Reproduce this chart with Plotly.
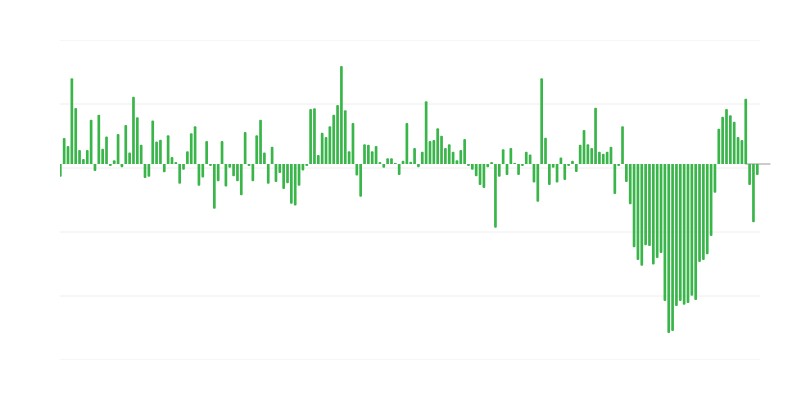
import plotly.graph_objects as go

values = [
    -2.0, 4.06, 2.8, 13.4, 8.75, 2.2, 0.8, 2.2, 6.9, -1.1,
    7.7, 2.4, 4.3, -0.2, 0.6, 4.7, -0.5, 6.1, 1.8, 10.5,
    7.3, 3.0, -2.2, -2.0, 6.8, 3.5, 3.8, -1.3, 4.5, 1.1,
    0.2, -3.1, -0.9, 2.0, 4.8, 5.9, -3.4, -2.1, 3.6, -0.2,
    -7.0, -2.7, 3.6, -3.5, -0.6, -1.9, -2.7, -4.9, 5.0, -0.3,
    -2.7, 4.5, 6.9, 1.8, -3.1, 2.7, -2.8, -1.4, -3.9, -3.0,
    -6.2, -6.5, -3.4, -1.0, -0.3, 8.6, 8.7, 1.4, 4.9, 4.2,
    5.9, 7.7, 9.2, 15.3, 8.4, 2.0, 6.4, -1.8, -5.1, 3.1,
    3.0, 2.0, 2.8, 0.2, -0.6, 0.9, 0.9, 0.15, -1.7, 0.5,
    6.4, 0.35, 2.5, -0.5, 1.9, 9.8, 3.6, 3.75, 5.6, 4.4,
    2.5, 3.1, 1.9, 0.6, 2.2, 3.9, -0.3, -0.9, -1.9, -3.3,
    -3.75, -0.5, 0.3, -9.95, -2.0, 2.3, -1.7, 2.5, 0.15, -1.7,
    -0.2, 1.9, 1.5, -2.9, -5.9, 13.4, 4.1, -3.3, -0.6, -2.9,
    1.0, -2.5, -0.3, 0.5, -1.25, 3.0, 5.3, 3.1, 2.5, 8.8,
    1.9, 1.6, 1.9, 2.7, -4.7, -0.2, 5.9, -2.8, -6.3, -13.0,
    -15.0, -15.9, -12.7, -12.8, -15.7, -14.7, -13.9, -21.4, -26.4, -26.1,
    -22.2, -21.4, -22.0, -21.7, -20.6, -21.25, -15.3, -15.0, -14.1, -11.25,
    -4.5, 5.5, 7.4, 8.6, 7.6, 6.6, 4.2, 3.75, 10.2, -3.3,
    -9.1, -1.7,
]
periods = list(range(len(values)))
grid_values = [-30.625, -20.625, -10.625, -0.625, 9.375, 19.375]

GREEN = "#39b54a"
GRID = "#eeeeee"

fig = go.Figure(
    go.Bar(
        x=periods,
        y=values,
        marker=dict(color=GREEN, line=dict(width=0)),
        hoverinfo="skip",
    )
)

# grid lines (drawn as shapes so the ones on the plot edges show too)
shapes = [
    dict(
        type="line", xref="paper", yref="y",
        x0=0, x1=1, y0=g, y1=g,
        line=dict(color=GRID, width=1),
        layer="below",
    )
    for g in grid_values
]
shapes.append(
    dict(
        type="line", xref="paper", yref="y",
        x0=0.979, x1=1.015, y0=0, y1=0,
        line=dict(color="#bbbbbb", width=1.5),
        layer="below",
    )
)

fig.update_layout(
    width=784,
    height=384,
    margin=dict(l=52, r=32, t=32, b=32),
    paper_bgcolor="white",
    plot_bgcolor="white",
    bargap=0.3,
    barcornerradius=1,
    showlegend=False,
    xaxis=dict(
        range=[-0.08, 181.7],
        showgrid=False,
        zeroline=False,
        showticklabels=False,
        showline=False,
        ticks="",
    ),
    yaxis=dict(
        range=[-30.625, 19.375],
        showticklabels=False,
        showgrid=False,
        zeroline=False,
        showline=False,
        ticks="",
    ),
    shapes=shapes,
)

fig.write_html("out.html")
